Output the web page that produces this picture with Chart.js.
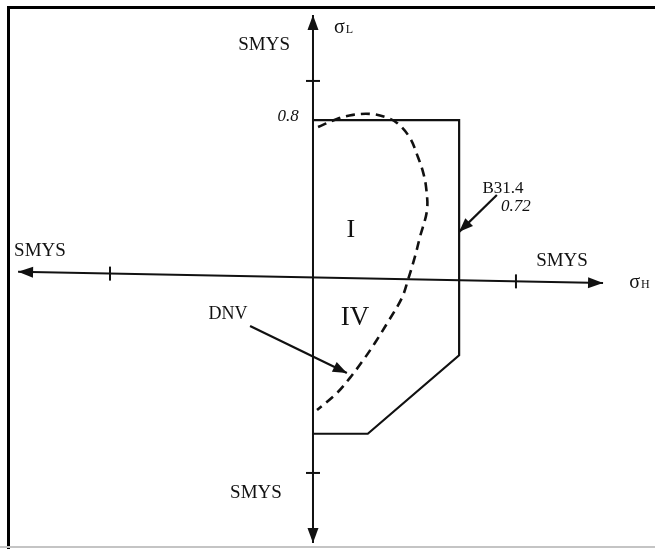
<!DOCTYPE html>
<html>
<head>
<meta charset="utf-8">
<script src="https://cdn.jsdelivr.net/npm/chart.js@4/dist/chart.umd.min.js"></script>
<style>
  html, body { margin: 0; padding: 0; background: #fff; }
  #wrap { position: relative; width: 655px; height: 549px; overflow: hidden; }
  #wrap canvas { position: absolute; left: 0; top: 0; }
  #frame { position: absolute; left: 7px; top: 6px; right: -10px; bottom: -10px;
           border-left: 3px solid #000; border-top: 3px solid #000; pointer-events: none; }
  #base { position: absolute; left: 0; right: 0; top: 546px; height: 2px; background: #c4c4c4; }
</style>
</head>
<body>
<div id="wrap">
  <canvas id="chart" width="655" height="549"></canvas>
  <div id="frame"></div>
  <div id="base"></div>
</div>
<script>
// Stresses are expressed as fractions of SMYS: hoop stress (σH) across, longitudinal stress (σL) up.

// B31.4 allowable envelope
const envelopeHoop = [0, 0.72, 0.72, 0.27, 0];
const envelopeLong = [0.8, 0.8, -0.4, -0.8, -0.8];

// DNV equivalent-stress limit
const dnvHoop = [0.025, 0.118, 0.197, 0.281, 0.355, 0.414, 0.478, 0.517, 0.542, 0.557, 0.562,
                 0.527, 0.502, 0.468, 0.438, 0.369, 0.305, 0.241, 0.182, 0.118, 0.02];
const dnvLong = [0.765, 0.806, 0.827, 0.832, 0.816, 0.786, 0.709, 0.612, 0.536, 0.459, 0.342,
                 0.204, 0.102, -0.015, -0.107, -0.23, -0.337, -0.434, -0.515, -0.592, -0.679];

// SMYS marks on both axes
const smysTicks = [-1, 1];

// Axis end points (hoop axis, longitudinal axis)
const hoopAxisHoop = [-1.453, 1.429];
const hoopAxisLong = [0.026, -0.031];
const longAxisHoop = [0, 0];
const longAxisLong = [1.337, -1.357];

// Pointer arrows: DNV label -> curve, B31.4 label -> envelope edge
const dnvPointerHoop = [-0.31, 0.167];
const dnvPointerLong = [-0.25, -0.49];
const b31PointerHoop = [0.906, 0.72];
const b31PointerLong = [0.418, 0.23];

// Texts
const smysLabel = 'SMYS';
const regionLabels = ['I', 'IV'];
const codeLabels = ['DNV', 'B31.4'];
const limitLabels = ['0.8', '0.72'];

const pts = (xs, ys) => xs.map((v, i) => ({ x: v, y: ys[i] }));
const ink = '#111';

// hoop-axis y at a given hoop value (axis is drawn slightly sloped)
const onHoopAxis = h => hoopAxisLong[0] + (h - hoopAxisHoop[0]) *
  (hoopAxisLong[1] - hoopAxisLong[0]) / (hoopAxisHoop[1] - hoopAxisHoop[0]);

const notes = [
  { text: smysLabel, at: [-0.241, 1.184], size: 19 },
  { text: smysLabel, at: [-1.345, 0.133], size: 19 },
  { text: smysLabel, at: [1.227, 0.082], size: 19 },
  { text: smysLabel, at: [-0.281, -1.102], size: 19 },
  { text: 'σ', sub: 'L', at: [0.13, 1.27], size: 20 },
  { text: 'σ', sub: 'H', at: [1.585, -0.03], size: 20 },
  { text: limitLabels[0], at: [-0.123, 0.82], size: 17, italic: true },
  { text: codeLabels[1], at: [0.936, 0.449], size: 17 },
  { text: limitLabels[1], at: [1.0, 0.36], size: 17, italic: true },
  { text: regionLabels[0], at: [0.187, 0.24], size: 26 },
  { text: regionLabels[1], at: [0.207, -0.209], size: 27 },
  { text: codeLabels[0], at: [-0.419, -0.189], size: 18 }
];

const notesPlugin = {
  id: 'notes',
  afterDatasetsDraw(chart) {
    const { ctx, scales: { x, y } } = chart;
    ctx.save();
    ctx.fillStyle = ink;
    ctx.textBaseline = 'middle';
    notes.forEach(n => {
      const px = x.getPixelForValue(n.at[0]);
      const py = y.getPixelForValue(n.at[1]);
      ctx.font = (n.italic ? 'italic ' : '') + n.size + 'px "Liberation Serif", serif';
      if (n.sub) {
        const w = ctx.measureText(n.text).width;
        ctx.textAlign = 'left';
        ctx.fillText(n.text, px - w / 2, py);
        ctx.font = Math.round(n.size * 0.6) + 'px "Liberation Serif", serif';
        ctx.fillText(n.sub, px + w / 2 + 1, py + 2);
      } else {
        ctx.textAlign = 'center';
        ctx.fillText(n.text, px, py);
      }
    });
    ctx.restore();
  }
};

// filled arrow heads at the ends of datasets flagged with `arrowEnds`
const arrowPlugin = {
  id: 'arrows',
  afterDatasetsDraw(chart) {
    const ctx = chart.ctx;
    chart.data.datasets.forEach((ds, i) => {
      if (!ds.arrowEnds) return;
      const els = chart.getDatasetMeta(i).data;
      const head = (tip, from) => {
        const a = Math.atan2(tip.y - from.y, tip.x - from.x);
        const L = ds.arrowLen, W = ds.arrowHalf;
        ctx.beginPath();
        ctx.moveTo(tip.x, tip.y);
        ctx.lineTo(tip.x - L * Math.cos(a) + W * Math.sin(a), tip.y - L * Math.sin(a) - W * Math.cos(a));
        ctx.lineTo(tip.x - L * Math.cos(a) - W * Math.sin(a), tip.y - L * Math.sin(a) + W * Math.cos(a));
        ctx.closePath();
        ctx.fill();
      };
      ctx.save();
      ctx.fillStyle = ink;
      if (ds.arrowEnds.includes('end')) head(els[els.length - 1], els[els.length - 2]);
      if (ds.arrowEnds.includes('start')) head(els[0], els[1]);
      ctx.restore();
    });
  }
};

const lineSet = (data, extra) => Object.assign({
  data, showLine: true, borderColor: ink, backgroundColor: ink, borderWidth: 2,
  pointRadius: 0, tension: 0, fill: false, clip: false
}, extra);

new Chart(document.getElementById('chart'), {
  type: 'scatter',
  data: {
    datasets: [
      lineSet(pts(hoopAxisHoop, hoopAxisLong), { arrowEnds: ['start', 'end'], arrowLen: 15, arrowHalf: 5.5 }),
      lineSet(pts(longAxisHoop, longAxisLong), { arrowEnds: ['start', 'end'], arrowLen: 15, arrowHalf: 5.5 }),
      lineSet(pts(smysTicks, smysTicks.map(onHoopAxis)), {
        showLine: false, pointStyle: 'line', rotation: 90, pointRadius: 7, borderWidth: 2
      }),
      lineSet(pts(smysTicks.map(() => 0), smysTicks), {
        showLine: false, pointStyle: 'line', rotation: 0, pointRadius: 7, borderWidth: 2
      }),
      lineSet(pts(envelopeHoop, envelopeLong), { borderWidth: 2.2 }),
      lineSet(pts(dnvHoop, dnvLong), { borderWidth: 2.6, borderDash: [9, 6], tension: 0.35 }),
      lineSet(pts(dnvPointerHoop, dnvPointerLong), { borderWidth: 2.2, arrowEnds: ['end'], arrowLen: 14, arrowHalf: 5.5 }),
      lineSet(pts(b31PointerHoop, b31PointerLong), { borderWidth: 2.2, arrowEnds: ['end'], arrowLen: 14, arrowHalf: 5.5 })
    ]
  },
  options: {
    responsive: false,
    animation: false,
    devicePixelRatio: 1,
    layout: { padding: 0, autoPadding: false },
    plugins: { legend: { display: false }, tooltip: { enabled: false } },
    events: [],
    scales: {
      x: { type: 'linear', min: -1.542, max: 1.685, display: false },
      y: { type: 'linear', min: -1.388, max: 1.413, display: false }
    }
  },
  plugins: [arrowPlugin, notesPlugin]
});
</script>
</body>
</html>
